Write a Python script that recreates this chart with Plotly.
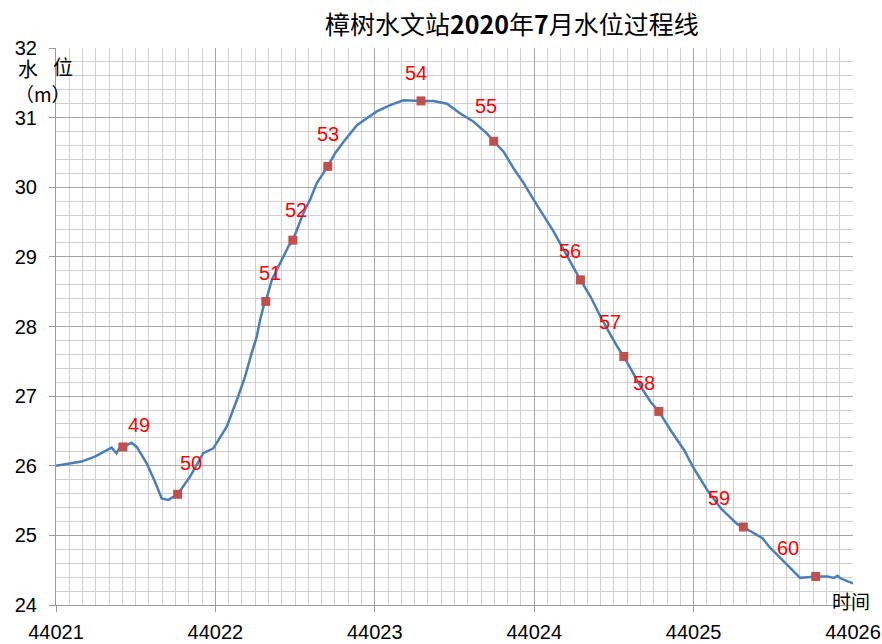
import plotly.graph_objects as go

# ---- data ----
line_time = [44021.00, 44021.16, 44021.244, 44021.349, 44021.38, 44021.401, 44021.42, 44021.474,
             44021.506, 44021.568, 44021.621, 44021.663, 44021.704, 44021.757, 44021.763, 44021.84,
             44021.924, 44021.987, 44022.071, 44022.134, 44022.186, 44022.228, 44022.259, 44022.28,
             44022.301, 44022.316, 44022.354, 44022.406, 44022.458, 44022.486, 44022.511, 44022.552,
             44022.594, 44022.636, 44022.705, 44022.751, 44022.803, 44022.845, 44022.888, 44022.95,
             44023.013, 44023.097, 44023.18, 44023.29, 44023.369, 44023.453, 44023.536, 44023.62,
             44023.704, 44023.746, 44023.808, 44023.871, 44023.934, 44023.997, 44024.06, 44024.123,
             44024.185, 44024.248, 44024.29, 44024.353, 44024.416, 44024.479, 44024.521, 44024.562,
             44024.604, 44024.667, 44024.73, 44024.782, 44024.856, 44024.939, 44025.002, 44025.086,
             44025.17, 44025.232, 44025.274, 44025.312, 44025.379, 44025.432, 44025.473, 44025.546,
             44025.63, 44025.668, 44025.714, 44025.766, 44025.84, 44025.881, 44025.903, 44025.923,
             44026.00]
line_level = [26.00, 26.06, 26.13, 26.26, 26.18, 26.27, 26.27, 26.33,
              26.27, 26.04, 25.77, 25.53, 25.51, 25.58, 25.59, 25.84,
              26.18, 26.25, 26.56, 26.94, 27.28, 27.62, 27.85, 28.09,
              28.28, 28.36, 28.67, 28.91, 29.15, 29.24, 29.39, 29.63,
              29.82, 30.06, 30.30, 30.49, 30.65, 30.77, 30.89, 30.99,
              31.09, 31.18, 31.25, 31.24, 31.24, 31.20, 31.06, 30.94,
              30.77, 30.66, 30.51, 30.27, 30.06, 29.82, 29.58, 29.36,
              29.10, 28.84, 28.67, 28.43, 28.14, 27.88, 27.71, 27.57,
              27.40, 27.14, 26.92, 26.78, 26.51, 26.23, 25.96, 25.65,
              25.39, 25.25, 25.16, 25.12, 25.03, 24.96, 24.84, 24.67,
              24.48, 24.39, 24.40, 24.41, 24.41, 24.39, 24.42, 24.38,
              24.31]

point_time = [44021.42, 44021.763, 44022.316, 44022.486, 44022.705, 44023.29,
              44023.746, 44024.29, 44024.562, 44024.782, 44025.312, 44025.766]
point_level = [26.27, 25.59, 28.36, 29.24, 30.30, 31.24,
               30.66, 28.67, 27.57, 26.78, 25.12, 24.41]
point_labels = ["49", "50", "51", "52", "53", "54", "55", "56", "57", "58", "59", "60"]

x_ticks = [44021, 44022, 44023, 44024, 44025, 44026]
x_tick_text = ["44021", "44022", "44023", "44024", "44025", "44026"]
y_ticks = [24, 25, 26, 27, 28, 29, 30, 31, 32]

title_text = "樟树水文站<b>2020</b>年<b>7</b>月水位过程线"

# label offsets (pixels, label centre relative to marker)
label_offsets = [(16, 22), (13, 31), (4, 28), (3, 30), (0, 32), (-5, 28),
                 (-8, 35), (-10, 29), (-14, 34), (-15, 28), (-24, 29), (-28, 28)]

# plot-area geometry in page pixels (body margin removed below)
L, R, T, B = 56, 853, 48, 605
W, H = R - L, B - T
FW, FH = 882, 644


def px(xp):
    return (xp - L) / W


def py(yp):
    return (B - yp) / H


fig = go.Figure()
fig.add_trace(go.Scatter(x=line_time, y=line_level, mode="lines",
                         line=dict(color="#4A7EBB", width=2.5), hoverinfo="skip",
                         showlegend=False))
fig.add_trace(go.Scatter(x=point_time, y=point_level, mode="markers",
                         marker=dict(symbol="square", size=9, color="#C0504D",
                                     line=dict(width=0)),
                         showlegend=False))

for xv, yv, lab, (dx, dy) in zip(point_time, point_level, point_labels, label_offsets):
    fig.add_annotation(x=xv, y=yv, xref="x", yref="y", text=lab, showarrow=False,
                       xshift=dx, yshift=dy,
                       font=dict(family="Liberation Sans", size=20, color="#FF0000"))

fig.update_layout(
    width=FW, height=FH,
    margin=dict(l=L, r=FW - R, t=T, b=FH - B, autoexpand=False),
    paper_bgcolor="white", plot_bgcolor="white",
    xaxis=dict(range=[44021, 44026], tickmode="array", tickvals=x_ticks, ticktext=x_tick_text,
               showgrid=True, gridcolor="#A6A6A6", gridwidth=1,
               showline=True, linecolor="#9A9A9A", linewidth=1, mirror=False,
               ticks="outside", ticklen=6, tickcolor="#9A9A9A", ticklabelstandoff=3,
               tickfont=dict(family="Liberation Sans", size=20, color="#000000"),
               minor=dict(dtick=1 / 12, tick0=44021, showgrid=True, gridcolor="#D0D0D0",
                          gridwidth=1),
               zeroline=False, fixedrange=True, automargin=False),
    yaxis=dict(range=[24, 32], tickmode="array", tickvals=y_ticks,
               showgrid=True, gridcolor="#A6A6A6", gridwidth=1,
               showline=True, linecolor="#9A9A9A", linewidth=1,
               ticks="outside", ticklen=6, tickcolor="#9A9A9A", ticklabelstandoff=8,
               tickfont=dict(family="Liberation Sans", size=20, color="#000000"),
               minor=dict(dtick=0.2, tick0=24, showgrid=True, gridcolor="#D0D0D0", gridwidth=1),
               zeroline=False, fixedrange=True, automargin=False),
)

# title
fig.add_annotation(x=px(512), y=py(23), xref="paper", yref="paper", xanchor="center",
                   yanchor="middle", text=title_text, showarrow=False,
                   font=dict(family="Noto Sans CJK SC", size=25, color="#000000"))

# axis titles
fig.add_annotation(x=px(28), y=py(68), xref="paper", yref="paper", xanchor="center",
                   yanchor="middle", text="水", showarrow=False,
                   font=dict(family="Noto Sans CJK SC", size=20, color="#000000"))
fig.add_annotation(x=px(63), y=py(66), xref="paper", yref="paper", xanchor="center",
                   yanchor="middle", text="位", showarrow=False,
                   font=dict(family="Noto Sans CJK SC", size=20, color="#000000"))
fig.add_annotation(x=px(43), y=py(94), xref="paper", yref="paper", xanchor="center",
                   yanchor="middle", text="（m）", showarrow=False,
                   font=dict(family="Noto Sans CJK SC", size=19, color="#000000"))
fig.add_annotation(x=px(851), y=py(600), xref="paper", yref="paper", xanchor="center",
                   yanchor="middle", text="时间", showarrow=False,
                   font=dict(family="Noto Sans CJK SC", size=19, color="#000000"))

fig.write_html("out.html", config={"displayModeBar": False},
               post_script="document.body.style.margin='0';document.body.style.overflow='hidden';")
